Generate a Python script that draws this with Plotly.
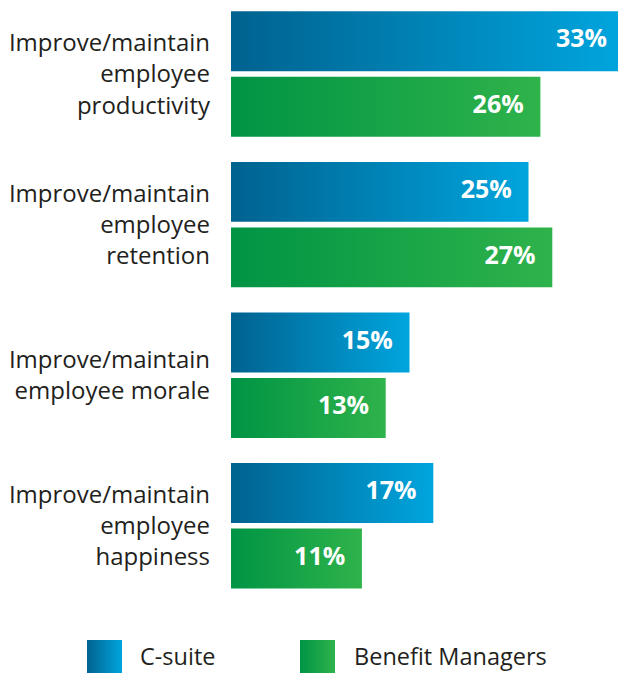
import plotly.graph_objects as go

# ---------------- data ----------------
categories = [
    "Improve/maintain<br>employee<br>productivity",
    "Improve/maintain<br>employee<br>retention",
    "Improve/maintain<br>employee morale",
    "Improve/maintain<br>employee<br>happiness",
]
series_names = ["C-suite", "Benefit Managers"]
csuite = [33, 25, 15, 17]
benefit = [26, 27, 13, 11]

# ---------------- style ----------------
W, H = 618, 673
LEFT_PX = 231
PX_PER_PCT = 11.9
GROUP0_PX = 74.0
GROUP_PITCH_PX = 150.6
OFFSET = 0.2175          # half distance between bar centres within a group (group units)
HALF_H = 0.199           # half bar thickness (group units)
TEXT_PAD = 1.4           # label inset from bar end (pct units)
FONT = "Open Sans"
TXT = "#231f20"

blue_scale = [[0, "#00628f"], [1, "#00a5de"]]
green_scale = [[0, "#009444"], [1, "#2fb34b"]]

fig = go.Figure()

positions = list(range(len(categories)))


def bar_trace(v, yc, scale, name):
    return go.Scatter(
        x=[0, v, v, 0, 0],
        y=[yc - HALF_H, yc - HALF_H, yc + HALF_H, yc + HALF_H, yc - HALF_H],
        mode="lines",
        line=dict(width=0),
        fill="toself",
        fillgradient=dict(type="horizontal", colorscale=scale),
        hoverinfo="skip",
        showlegend=False,
        name=name,
    )


for i, (c, b) in enumerate(zip(csuite, benefit)):
    fig.add_trace(bar_trace(c, positions[i] - OFFSET, blue_scale, series_names[0]))
    fig.add_trace(bar_trace(b, positions[i] + OFFSET, green_scale, series_names[1]))

# value labels
for vals, sign in ((csuite, -1), (benefit, 1)):
    fig.add_trace(go.Scatter(
        x=[v - TEXT_PAD for v in vals],
        y=[p + sign * OFFSET for p in positions],
        mode="text",
        text=[f"{v}%" for v in vals],
        textposition="middle left",
        textfont=dict(family=FONT, size=25, color="white", weight="bold"),
        cliponaxis=False,
        hoverinfo="skip",
        showlegend=False,
    ))

# legend swatches (on an overlay pixel-space axis)
legend_items = [
    (87, 122, blue_scale, series_names[0], 138),
    (300, 335, green_scale, series_names[1], 352),
]
for x0, x1, scale, name, tx in legend_items:
    fig.add_trace(go.Scatter(
        x=[x0, x1, x1, x0, x0],
        y=[640, 640, 676, 676, 640],
        mode="lines",
        line=dict(width=0),
        fill="toself",
        fillgradient=dict(type="horizontal", colorscale=scale),
        hoverinfo="skip",
        showlegend=False,
        xaxis="x2",
        yaxis="y2",
    ))
    fig.add_annotation(
        x=tx / W, y=1 - 656 / H, xref="paper", yref="paper",
        xanchor="left", yanchor="middle", showarrow=False,
        text=name, font=dict(family=FONT, size=23.5, color=TXT),
    )

y_top = (0 - GROUP0_PX) / GROUP_PITCH_PX
y_bot = (H - GROUP0_PX) / GROUP_PITCH_PX

fig.update_layout(
    width=W,
    height=H,
    margin=dict(l=0, r=0, t=0, b=0),
    paper_bgcolor="white",
    plot_bgcolor="rgba(0,0,0,0)",
    showlegend=False,
    xaxis=dict(
        domain=[LEFT_PX / W, 1],
        range=[0, (W - LEFT_PX) / PX_PER_PCT],
        visible=False,
        fixedrange=True,
    ),
    yaxis=dict(
        range=[y_bot, y_top],
        tickvals=positions,
        ticktext=categories,
        showgrid=False,
        zeroline=False,
        showline=False,
        ticks="",
        ticklabelstandoff=20,
        tickfont=dict(family=FONT, size=24, color=TXT),
        fixedrange=True,
    ),
    xaxis2=dict(domain=[0, 1], range=[0, W], anchor="y2", visible=False, fixedrange=True),
    yaxis2=dict(domain=[0, 1], range=[H, 0], anchor="x2", visible=False, fixedrange=True),
)

fig.write_html("out.html", config={"displayModeBar": False})
